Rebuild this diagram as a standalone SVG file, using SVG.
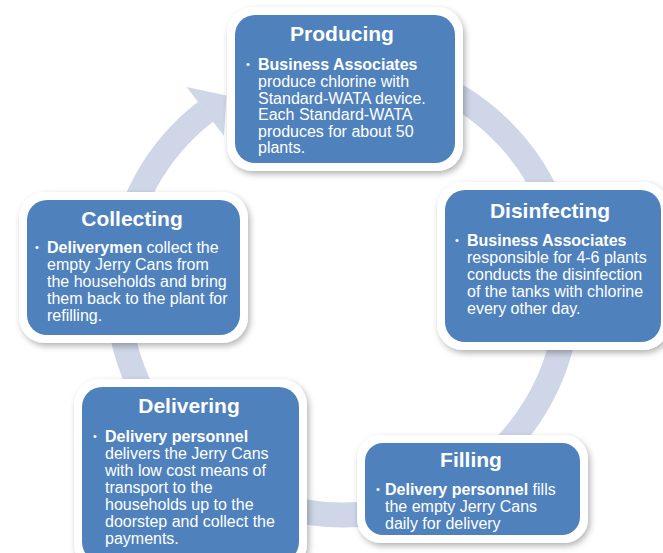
<svg xmlns="http://www.w3.org/2000/svg" width="663" height="553" viewBox="0 0 663 553">
<style>
.frame{fill:#FFFFFF;filter:url(#sh);}
.box{fill:#4F81BD;}
.ttl{font-family:"Liberation Sans",Arial,sans-serif;font-weight:bold;font-size:21px;fill:#FFFFFF;text-anchor:middle;}
.txt{font-family:"Liberation Sans",Arial,sans-serif;font-size:16px;fill:#FFFFFF;}
.b{font-weight:bold;}
.bul{font-family:"Liberation Sans",Arial,sans-serif;font-size:11px;fill:#FFFFFF;}
.ring{fill:none;stroke:#CED6E7;stroke-width:25;}
</style>
<defs>
<filter id="sh" x="-10%" y="-10%" width="125%" height="130%">
<feDropShadow dx="2" dy="3" stdDeviation="3" flood-color="#000000" flood-opacity="0.3"/>
</filter>
</defs>
<rect width="663" height="553" fill="#FFFFFF"/>
<g id="connectors">
<path class="ring" d="M 420.0 78.6 A 225 225 0 1 1 205.7 111.7"/>
<polygon points="186.6,87.0 226.5,95.6 224.0,136.0" fill="#CED6E7"/>
</g>
<g id="producing">
<rect class="frame" x="227" y="7" width="236" height="164" rx="26"/>
<rect class="box" x="235" y="15" width="220" height="148" rx="20"/>
<text class="ttl" x="342" y="41">Producing</text>
<text class="bul" x="246" y="68">•</text>
<text class="txt" x="258"><tspan class="b" x="258" y="70">Business Associates</tspan><tspan x="258" y="87">produce chlorine with</tspan><tspan x="258" y="104">Standard-WATA device.</tspan><tspan x="258" y="120">Each Standard-WATA</tspan><tspan x="258" y="137">produces for about 50</tspan><tspan x="258" y="153">plants.</tspan></text>
</g>
<g id="disinfecting">
<rect class="frame" x="437" y="182" width="232" height="168" rx="26"/>
<rect class="box" x="445" y="190" width="216" height="152" rx="20"/>
<text class="ttl" x="550" y="218">Disinfecting</text>
<text class="bul" x="455" y="244">•</text>
<text class="txt" x="467"><tspan class="b" x="467" y="246">Business Associates</tspan><tspan x="467" y="263">responsible for 4-6 plants</tspan><tspan x="467" y="280">conducts the disinfection</tspan><tspan x="467" y="297">of the tanks with chlorine</tspan><tspan x="467" y="314">every other day.</tspan></text>
</g>
<g id="collecting">
<rect class="frame" x="19" y="192" width="229" height="151" rx="26"/>
<rect class="box" x="27" y="200" width="213" height="135" rx="20"/>
<text class="ttl" x="132" y="226">Collecting</text>
<text class="bul" x="35" y="251">•</text>
<text class="txt" x="47"><tspan class="b" x="47" y="253">Deliverymen</tspan><tspan> collect the</tspan><tspan x="47" y="270">empty Jerry Cans from</tspan><tspan x="47" y="287">the households and bring</tspan><tspan x="47" y="304">them back to the plant for</tspan><tspan x="47" y="321">refilling.</tspan></text>
</g>
<g id="delivering">
<rect class="frame" x="74" y="379" width="233" height="191" rx="26"/>
<rect class="box" x="82" y="387" width="217" height="175" rx="20"/>
<text class="ttl" x="189" y="413">Delivering</text>
<text class="bul" x="93" y="440">•</text>
<text class="txt" x="105"><tspan class="b" x="105" y="442">Delivery personnel</tspan><tspan x="105" y="459">delivers the Jerry Cans</tspan><tspan x="105" y="476">with low cost means of</tspan><tspan x="105" y="493">transport to the</tspan><tspan x="105" y="510">households up to the</tspan><tspan x="105" y="527">doorstep and collect the</tspan><tspan x="105" y="544">payments.</tspan></text>
</g>
<g id="filling">
<rect class="frame" x="357" y="435" width="231" height="108" rx="24"/>
<rect class="box" x="365" y="443" width="215" height="92" rx="18"/>
<text class="ttl" x="471" y="467">Filling</text>
<text class="bul" x="376" y="493">•</text>
<text class="txt" x="385"><tspan class="b" x="385" y="495">Delivery personnel</tspan><tspan> fills</tspan><tspan x="385" y="512">the empty Jerry Cans</tspan><tspan x="385" y="529">daily for delivery</tspan></text>
</g>
</svg>
